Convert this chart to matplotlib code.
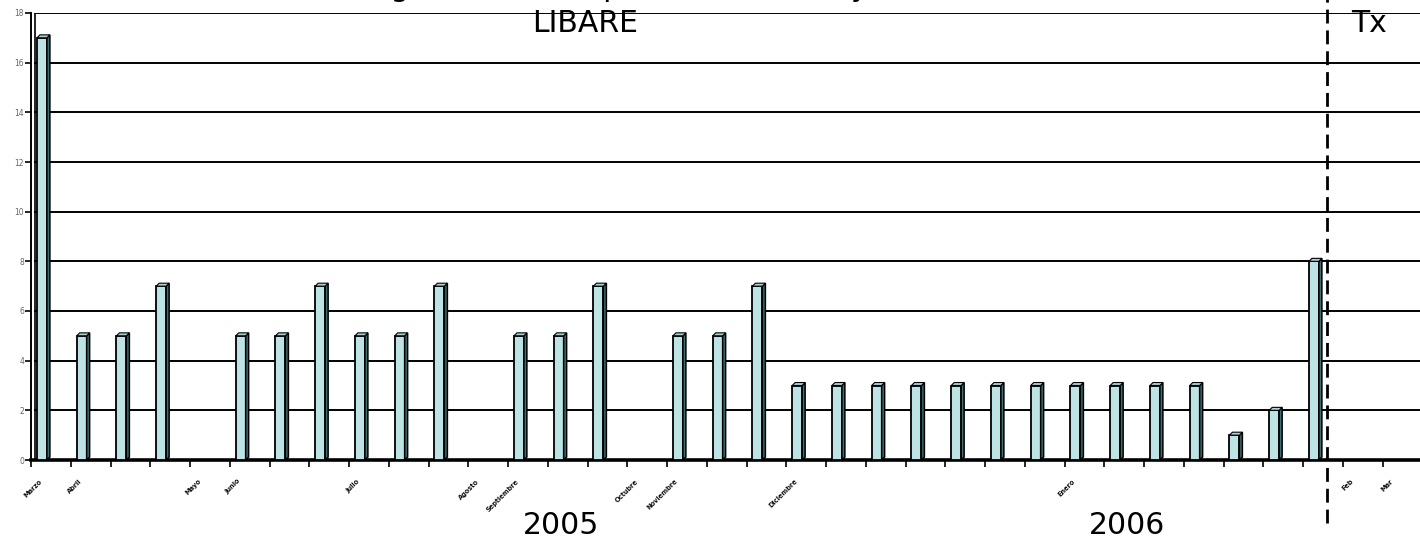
import matplotlib
matplotlib.use("Agg")
import matplotlib.pyplot as plt
from matplotlib.patches import Polygon
from matplotlib.transforms import blended_transform_factory

# Monthly counts, one slot per category position (0 = nothing recorded)
slots = list(range(33))
values = [17, 5, 5, 7, 0, 5, 5, 7, 5, 5, 7, 0, 5, 5, 7, 0, 5, 5, 7,
          3, 3, 3, 3, 3, 3, 3, 3, 3, 3, 3, 1, 2, 8]

month_ticks = [0, 1, 4, 5, 8, 11, 12, 15, 16, 19, 26, 33, 34]
month_labels = ["Marzo", "Abril", "Mayo", "Junio", "Julio", "Agosto",
                "Septiembre", "Octubre", "Noviembre", "Diciembre",
                "Enero", "Feb", "Mar"]

yticks = list(range(0, 19, 2))
years = ["2005", "2006"]
year_x = [561, 1127]      # pixel centres of the year captions
cutover = 32.6            # dashed marker between the two series

W, H = 1420, 538
fig = plt.figure(figsize=(W / 100, H / 100), dpi=100)
ax = fig.add_axes([31 / W, 78 / H, (W - 31) / W, 447 / H])
n_slots = (W - 31) / 39.75
ax.set_xlim(0, n_slots)
ax.set_ylim(0, 18)

# horizontal grid on the back wall
for y in yticks[1:]:
    ax.plot([0.1, n_slots], [y, y], color="black", lw=1.4, zorder=1)
ax.plot([0.1, 0.1], [0, 18], color="black", lw=1.2, zorder=1)

# bars with a small 3D side and top face
off, bw = 0.15, 0.25
dx, dy = 0.075, 0.12
for s, v in zip(slots, values):
    if v <= 0:
        continue
    x0 = s + off
    ax.bar(x0, v, width=bw, align="edge", color="#bde3e5",
           edgecolor="black", linewidth=1.3, zorder=3)
    side = [(x0 + bw, 0), (x0 + bw + dx, dy), (x0 + bw + dx, v + dy), (x0 + bw, v)]
    top = [(x0, v), (x0 + dx, v + dy), (x0 + bw + dx, v + dy), (x0 + bw, v)]
    ax.add_patch(Polygon(side, closed=True, fc="#3f6f70", ec="black", lw=1.1, zorder=3))
    ax.add_patch(Polygon(top, closed=True, fc="#a9cfd1", ec="black", lw=0.8, zorder=3))

for side in ["top", "right"]:
    ax.spines[side].set_visible(False)
ax.spines["bottom"].set_linewidth(2.6)
ax.spines["left"].set_linewidth(1.4)

ax.set_yticks(yticks)
ax.set_yticklabels([str(t) for t in yticks], fontsize=5.5, color="#666666")
ax.tick_params(axis="y", length=4, width=1.2, color="black", pad=1)
ax.set_xticks(range(0, 35))
ax.set_xticklabels([])
ax.tick_params(axis="x", length=5, width=1.2, color="black")

# month captions under their ticks
trans = blended_transform_factory(ax.transData, ax.transAxes)
for t, lab in zip(month_ticks, month_labels):
    ax.text(t + 0.25, -0.045, lab, transform=trans, rotation=45,
            rotation_mode="anchor", ha="right", va="center",
            fontsize=4.8, fontweight="bold", color="#111111")

# dashed marker line
ax.plot([cutover, cutover], [-2.55, 18.55], color="black", lw=2,
        dashes=(5, 2.5), clip_on=False, zorder=4)

# titles and captions; the first title line sits above the top edge
fig.text(600 / W, 1 + 4 / H, "Los giros de la empresa en el mes y",
         ha="center", va="baseline", fontsize=21.5)
fig.text(585 / W, 1 - 24 / H, "LIBARE", ha="center", va="center", fontsize=21.5)
fig.text(1369 / W, 1 - 24 / H, "Tx", ha="center", va="center", fontsize=21.5)
for lab, px in zip(years, year_x):
    fig.text(px / W, 1 - 526 / H, lab, ha="center", va="center", fontsize=21.5)

fig.savefig("out.png", dpi=100)
